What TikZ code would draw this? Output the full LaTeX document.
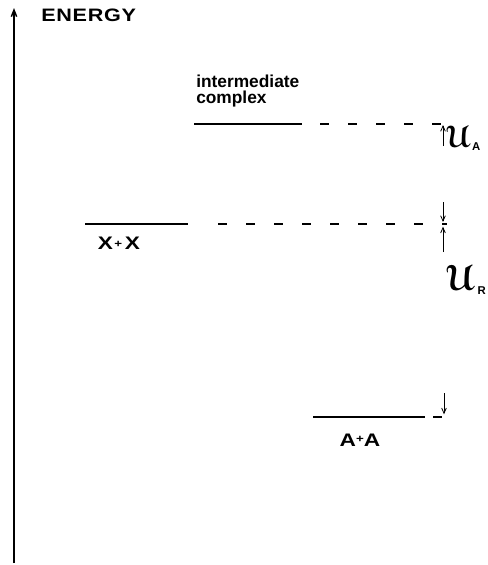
\documentclass[tikz,border=0pt]{standalone}
\usepackage{fontspec}
\usepackage{eucal}
\setmainfont{Liberation Sans}
\usetikzlibrary{arrows.meta}
\newcommand{\subfont}{\bfseries\fontsize{8.5}{9}\selectfont}
\begin{document}
\begin{tikzpicture}[x=0.75pt,y=-0.75pt,
    level/.style={line width=1pt},
    guide/.style={line width=1pt, dash pattern=on 7pt off 14pt},
    gap/.style={-{Straight Barb[length=4pt,width=3.5pt]}, line width=0.6pt},
    lbl/.style={font=\bfseries\fontsize{13}{13}\selectfont, inner sep=0pt},
    caps/.style={font=\bfseries\fontsize{13.6}{14}\selectfont\addfontfeature{FakeStretch=1.25}, inner sep=0pt}]
    % Vaste afmetingen van het plaatje
    \useasboundingbox (0,0) rectangle (488,565);

    % Energie-as
    \coordinate (axisbottom) at (14,563);
    \coordinate (axistop) at (14,8);
    \draw[line width=1.1pt, -{Straight Barb[length=5pt,width=4pt]}] (axisbottom) -- (axistop);
    \node[lbl, anchor=west, font=\bfseries\fontsize{13.5}{14}\selectfont\addfontfeature{FakeStretch=1.2,LetterSpace=4}] (energy) at (41,15) {ENERGY};

    % Niveaus: links een vaste lijn, rechts een stippellijn tot de meetlijn
    \foreach \name/\xa/\xb/\xc/\xd/\y in {ic/194/302/320/448/124, xx/85/188/218/447/224, aa/313/425/433/445/417} {
        \coordinate (\name1) at (\xa,\y);
        \coordinate (\name2) at (\xb,\y);
        \coordinate (\name3) at (\xc,\y);
        \coordinate (\name4) at (\xd,\y);
        \draw[level] (\name1) -- (\name2);
        \draw[guide] (\name3) -- (\name4);
    }

    % Bijschriften bij de niveaus
    \node[lbl, anchor=south west, align=left] (complex) at (196,107) {intermediate\\[-1pt]complex};
    \node[caps] (xxlabel) at (119,243) {X\hspace{1pt}\raisebox{1.5pt}{\fontsize{8}{8}\selectfont+}\hspace{2pt}X};
    \node[caps] (aalabel) at (360,440) {A\raisebox{2.5pt}{\fontsize{8}{8}\selectfont+}A};

    % Meetpijltjes
    \coordinate (uafoot) at (443,146);
    \coordinate (xxtop) at (443,202);
    \coordinate (urfoot) at (443,252);
    \coordinate (aatop) at (444,393);
    \draw[gap] (uafoot) -- ([yshift=-0.75pt]ic4 -| uafoot);
    \draw[gap] (xxtop) -- ([yshift=1.5pt]xx4 -| xxtop);
    \draw[gap] (urfoot) -- ([yshift=-2pt]xx4 -| urfoot);
    \draw[gap] (aatop) -- ([yshift=2pt]aa4 -| aatop);

    % Energieverschillen
    \node[inner sep=0pt, anchor=west] (ua) at (446,138) {{\fontsize{23}{23}\selectfont\boldmath$\mathcal{U}$}\hspace{1pt}\raisebox{-2pt}{\subfont A}};
    \node[inner sep=0pt, anchor=west] (ur) at (446,280) {{\fontsize{27}{27}\selectfont\boldmath$\mathcal{U}$}\hspace{2pt}\raisebox{-3pt}{\subfont R}};
\end{tikzpicture}
\end{document}
